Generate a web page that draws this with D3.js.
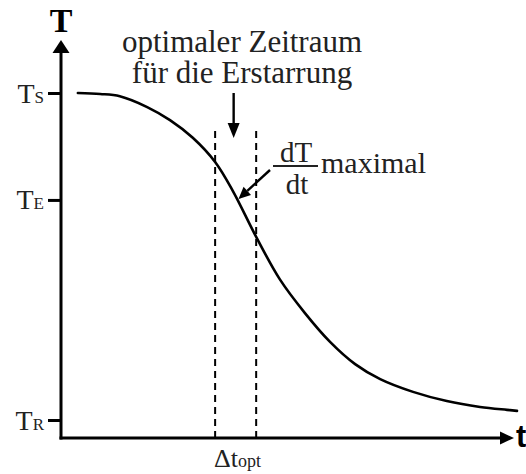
<!DOCTYPE html>
<html><head><meta charset="utf-8">
<script src="https://cdn.jsdelivr.net/npm/d3@7"></script>
</head><body style="margin:0;background:#fff"><svg id="c" width="526" height="474" style="display:block"></svg>
<script>
// ---- data ----
const timeValues = [3.7, 8.6, 12.9, 18.9, 23.9, 28.9, 33.8, 37.7, 42.8, 48.0, 53.5, 59.0, 64.5, 70.0, 77.2, 84.6, 91.9, 97.8, 100];
const tempValues = [100, 99.7, 99.0, 95.7, 91.7, 86.3, 78.9, 70.0, 56.0, 43.0, 32.7, 23.9, 17.1, 12.5, 8.6, 5.8, 4.0, 3.1, 2.8];
const tempTickValues = [100, 67.3, 0];
const tempTickMain = ["T", "T", "T"];
const tempTickSub = ["S", "E", "R"];
const optWindow = [33.8, 42.8];
const maxSlopeT = 38.7;
const titleLines = ["optimaler Zeitraum", "für die Erstarrung"];

// ---- layout ----
const SERIF = "Liberation Serif";
const SANS = "Liberation Sans";
const svg = d3.select("#c");
const x = d3.scaleLinear().domain([0, 100]).range([61, 517]);
const y = d3.scaleLinear().domain([0, 100]).range([420, 93]);
const axisX = 61, axisY = 438;

function txt(sel, fam, size) {
  return sel.append("text").style("font-family", `"${fam}"`, "important")
    .style("font-size", size + "px").attr("fill", "#222");
}

// axes lines
svg.append("line").attr("x1", axisX).attr("y1", axisY + 1.5).attr("x2", axisX).attr("y2", 50)
  .attr("stroke", "#000").attr("stroke-width", 3);
svg.append("path").attr("d", `M${axisX},40 L${axisX - 8.5},53 L${axisX + 8.5},53 Z`).attr("fill", "#000");
svg.append("line").attr("x1", axisX - 1.5).attr("y1", axisY).attr("x2", 503).attr("y2", axisY)
  .attr("stroke", "#000").attr("stroke-width", 3);
svg.append("path").attr("d", `M514,${axisY} L500,${axisY - 6.5} L500,${axisY + 6.5} Z`).attr("fill", "#000");

// y axis ticks via d3 axis
const yAxis = d3.axisLeft(y).tickValues(tempTickValues).tickSize(13).tickFormat("");
const gy = svg.append("g").attr("transform", `translate(${axisX},0)`).call(yAxis);
gy.select(".domain").remove();
gy.selectAll(".tick text").remove();
gy.selectAll(".tick line").attr("stroke", "#000").attr("stroke-width", 3);

// tick labels
tempTickValues.forEach((v, i) => {
  const t = txt(svg, SERIF, 28).attr("x", 44).attr("y", y(v) + 9.5).attr("text-anchor", "end");
  t.append("tspan").style("font-size", "28px").text(tempTickMain[i]);
  t.append("tspan").style("font-size", "17px").text(tempTickSub[i]);
});

// axis names
txt(svg, SERIF, 34).attr("x", axisX).attr("y", 32).attr("text-anchor", "middle")
  .attr("fill", "#000").style("font-weight", "bold").text("T");
txt(svg, SANS, 31).attr("x", 516).attr("y", 447).attr("fill", "#000")
  .style("font-weight", "bold").text("t");

// dashed window lines
optWindow.forEach(v => {
  svg.append("line").attr("x1", x(v)).attr("x2", x(v)).attr("y1", 131).attr("y2", axisY)
    .attr("stroke", "#000").attr("stroke-width", 2).attr("stroke-dasharray", "7,5");
});

// curve
const pts = timeValues.map((t, i) => [t, tempValues[i]]);
const line = d3.line().x(d => x(d[0])).y(d => y(d[1])).curve(d3.curveCatmullRom.alpha(0.5));
svg.append("path").datum(pts).attr("d", line).attr("fill", "none")
  .attr("stroke", "#000").attr("stroke-width", 2.6).attr("stroke-linecap", "round");

// title text
titleLines.forEach((s, i) => {
  txt(svg, SERIF, 31).attr("x", 242).attr("y", 52 + i * 31).attr("text-anchor", "middle").text(s);
});
// down arrow
const ax = (x(optWindow[0]) + x(optWindow[1])) / 2 - 2;
svg.append("line").attr("x1", ax).attr("x2", ax).attr("y1", 93).attr("y2", 126)
  .attr("stroke", "#000").attr("stroke-width", 2.4);
svg.append("path").attr("d", `M${ax},138 L${ax - 6},123 L${ax + 6},123 Z`).attr("fill", "#000");

// dT/dt maximal
txt(svg, SERIF, 29).attr("x", 296).attr("y", 162).attr("text-anchor", "middle").text("dT");
svg.append("line").attr("x1", 273).attr("x2", 318).attr("y1", 166).attr("y2", 166)
  .attr("stroke", "#222").attr("stroke-width", 2);
txt(svg, SERIF, 29).attr("x", 297).attr("y", 194).attr("text-anchor", "middle").text("dt");
txt(svg, SERIF, 30).attr("x", 321).attr("y", 173).text("maximal");

// small arrow to curve
const tipX = x(maxSlopeT) + 1, tipY = 199;
const sx = 270, sy = 170;
const ang = Math.atan2(tipY - sy, tipX - sx);
const hl = 12, hw = 5.5;
const bx = tipX - hl * Math.cos(ang), by = tipY - hl * Math.sin(ang);
svg.append("line").attr("x1", sx).attr("y1", sy).attr("x2", bx).attr("y2", by)
  .attr("stroke", "#000").attr("stroke-width", 2.4);
svg.append("path").attr("d",
  `M${tipX},${tipY} L${bx + hw * Math.sin(ang)},${by - hw * Math.cos(ang)} L${bx - hw * Math.sin(ang)},${by + hw * Math.cos(ang)} Z`)
  .attr("fill", "#000");

// Δt_opt
const lab = txt(svg, SERIF, 26).attr("x", 214).attr("y", 467);
lab.append("tspan").style("font-size", "26px").text("Δt");
lab.append("tspan").style("font-size", "18px").text("opt");
</script></body></html>
